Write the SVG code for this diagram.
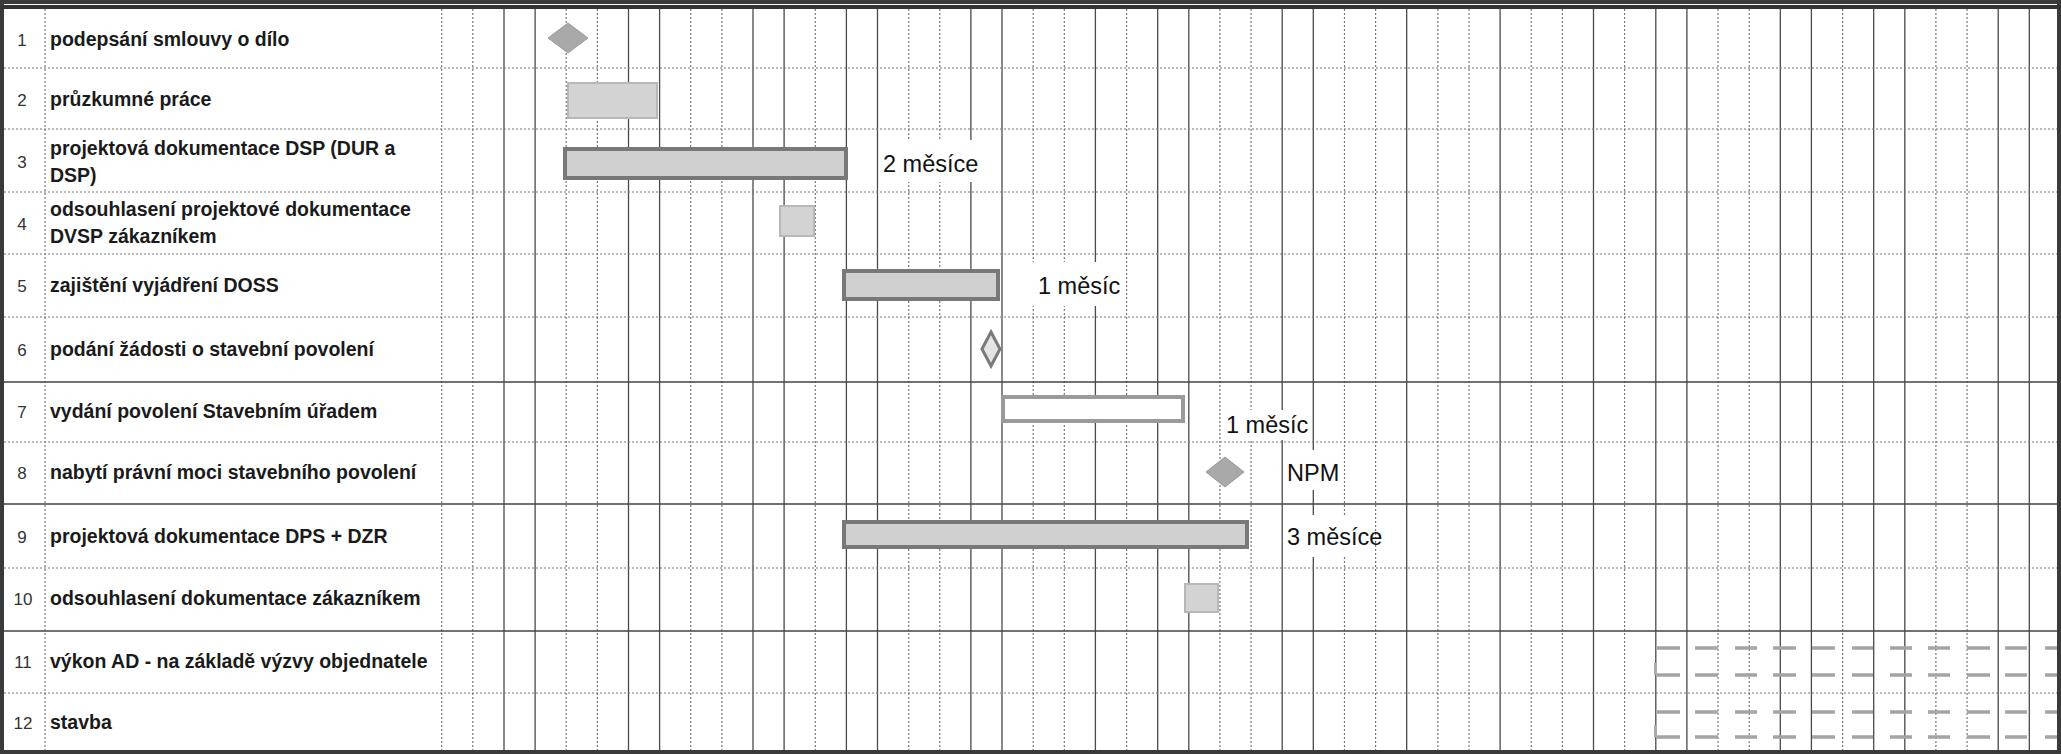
<svg xmlns="http://www.w3.org/2000/svg" width="2061" height="754" viewBox="0 0 2061 754">
<style>
.num{font-family:"Liberation Sans",Arial,sans-serif;font-size:17px;fill:#333;text-anchor:middle}
.lbl{font-family:"Liberation Sans",Arial,sans-serif;font-size:19.5px;font-weight:bold;fill:#1a1a1a}
.ann{font-family:"Liberation Sans",Arial,sans-serif;font-size:23.5px;fill:#111}
.solid{stroke:#4a4a4a;stroke-width:1.3;fill:none}
.dot{stroke:#777;stroke-width:1.2;stroke-dasharray:2 2;fill:none}
.hsolid{stroke:#444;stroke-width:1.5;fill:none}
.light{fill:#d3d3d3;stroke:#b8b8b8;stroke-width:2}
.dark{fill:#d0d0d0;stroke:#787878;stroke-width:4}
.outline{fill:#fff;stroke:#9a9a9a;stroke-width:4}
.ms{fill:#a9a9a9;stroke:#999;stroke-width:1}
.msout{fill:#e4e4e4;stroke:#7a7a7a;stroke-width:3}
.mask{fill:#fff}
.dash{stroke:#a4a4a4;stroke-width:3.5;fill:none}
</style>
<rect x="0" y="0" width="2061" height="754" fill="#fff"/>
<g id="grid">
<path class="dot" d="M45 9V752M441.7 9V752M472.8 9V752M566.2 9V752M597.4 9V752M690.7 9V752M721.9 9V752M815.3 9V752M908.7 9V752M939.8 9V752M1033.2 9V752M1064.3 9V752M1126.6 9V752M1219.9 9V752M1251.1 9V752M1344.5 9V752M1375.6 9V752M1437.9 9V752M1469 9V752M1531.3 9V752M1562.4 9V752M1624.6 9V752M1718 9V752M1749.2 9V752M1842.6 9V752M1935.9 9V752M1967.1 9V752"/>
<path class="solid" d="M504 9V752M535.1 9V752M628.5 9V752M659.6 9V752M753 9V752M784.1 9V752M846.4 9V752M877.5 9V752M970.9 9V752M1002 9V752M1095.4 9V752M1157.7 9V752M1188.8 9V752M1282.2 9V752M1313.3 9V752M1406.7 9V752M1500.1 9V752M1593.5 9V752M1655.8 9V752M1686.9 9V752M1780.3 9V752M1811.4 9V752M1873.7 9V752M1904.8 9V752M1998.2 9V752M2029.3 9V752"/>
<path class="dot" d="M4 68H2058M4 129H2058M4 192H2058M4 254H2058M4 317H2058M4 442H2058M4 568H2058M4 693H2058"/>
<path class="hsolid" d="M4 382H2058M4 504H2058M4 631H2058"/>
<rect x="2" y="2" width="2057" height="750" fill="none" stroke="#3a3a3a" stroke-width="4"/>
<path d="M0 7H2061" stroke="#333" stroke-width="4"/>
</g>
<g id="connectors"></g>
<g id="row-1">
<text class="num" x="22" y="46">1</text>
<text class="lbl" x="50" y="46">podepsání smlouvy o dílo</text>
<polygon class="ms" points="568,23 588,38 568,53 548,38"/>
</g>
<g id="row-2">
<text class="num" x="22" y="106">2</text>
<text class="lbl" x="50" y="106">průzkumné práce</text>
<rect class="light" x="568" y="83" width="89" height="35"/>
</g>
<g id="row-3">
<text class="num" x="22" y="168">3</text>
<text class="lbl" x="50" y="155">projektová dokumentace DSP (DUR a</text>
<text class="lbl" x="50" y="182">DSP)</text>
<rect class="dark" x="565" y="149" width="281" height="29"/>
<rect class="mask" x="880" y="140" width="92" height="42"/>
<text class="ann" x="883" y="172">2 měsíce</text>
</g>
<g id="row-4">
<text class="num" x="22" y="230">4</text>
<text class="lbl" x="50" y="216">odsouhlasení projektové dokumentace</text>
<text class="lbl" x="50" y="243">DVSP zákazníkem</text>
<rect class="light" x="780" y="206" width="34" height="30"/>
</g>
<g id="row-5">
<text class="num" x="22" y="292">5</text>
<text class="lbl" x="50" y="292">zajištění vyjádření DOSS</text>
<rect class="dark" x="844" y="271" width="154" height="28"/>
<rect class="mask" x="1004" y="262" width="118" height="44"/>
<text class="ann" x="1038" y="294">1 měsíc</text>
</g>
<g id="row-6">
<text class="num" x="22" y="356">6</text>
<text class="lbl" x="50" y="356">podání žádosti o stavební povolení</text>
<polygon class="msout" points="991,332 1000,349 991,366 982,349"/>
</g>
<g id="row-7">
<text class="num" x="22" y="418">7</text>
<text class="lbl" x="50" y="418">vydání povolení Stavebním úřadem</text>
<rect class="outline" x="1003" y="397" width="180" height="24"/>
<rect class="mask" x="1222" y="410" width="89" height="30"/>
<text class="ann" x="1226" y="433">1 měsíc</text>
</g>
<g id="row-8">
<text class="num" x="22" y="479">8</text>
<text class="lbl" x="50" y="479">nabytí právní moci stavebního povolení</text>
<polygon class="ms" points="1225,457 1244,472 1225,487 1206,472"/>
<rect class="mask" x="1284" y="450" width="58" height="40"/>
<text class="ann" x="1287" y="481">NPM</text>
</g>
<g id="row-9">
<text class="num" x="22" y="543">9</text>
<text class="lbl" x="50" y="543">projektová dokumentace DPS + DZR</text>
<rect class="dark" x="844" y="522" width="403" height="25"/>
<rect class="mask" x="1284" y="515" width="88" height="42"/>
<text class="ann" x="1287" y="545">3 měsíce</text>
</g>
<g id="row-10">
<text class="num" x="23" y="605">10</text>
<text class="lbl" x="50" y="605">odsouhlasení dokumentace zákazníkem</text>
<rect class="light" x="1185" y="584" width="33" height="28"/>
</g>
<g id="row-11">
<text class="num" x="23" y="668">11</text>
<text class="lbl" x="50" y="668">výkon AD - na základě výzvy objednatele</text>
<path class="dash" d="M1657 648h23M1695 648h23M1735 648h22M1773 648h23M1812 648h23M1852 648h21M1890 648h22M1928 648h22M1967 648h23M2005 648h22M2045 648h12M1657 675h23M1695 675h23M1735 675h22M1773 675h23M1812 675h23M1852 675h21M1890 675h22M1928 675h22M1967 675h23M2005 675h22M2045 675h12"/>
<path d="M1655 663V675" stroke="#aaa" stroke-width="2"/>
</g>
<g id="row-12">
<text class="num" x="23" y="729">12</text>
<text class="lbl" x="50" y="729">stavba</text>
<path class="dash" d="M1657 712h23M1695 712h23M1735 712h22M1773 712h23M1812 712h23M1852 712h21M1890 712h22M1928 712h22M1967 712h23M2005 712h22M2045 712h12M1657 737h23M1695 737h23M1735 737h22M1773 737h23M1812 737h23M1852 737h21M1890 737h22M1928 737h22M1967 737h23M2005 737h22M2045 737h12"/>
<path d="M1655 725V737" stroke="#aaa" stroke-width="2"/>
</g>
</svg>
